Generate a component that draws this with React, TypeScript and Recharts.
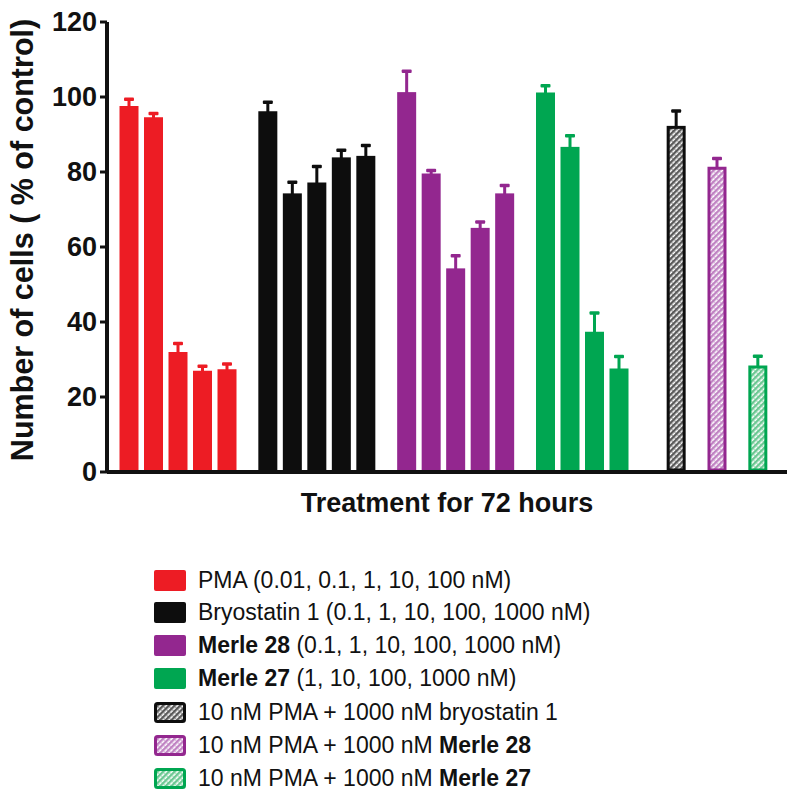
import React from "react";
import { BarChart, Bar, XAxis, YAxis, Label } from "recharts";

// ---- data ----
const pmaValues = [97.6, 94.6, 32.0, 27.0, 27.4];
const pmaErrors = [2.0, 1.2, 2.5, 1.4, 1.6];
const bryoValues = [96.2, 74.3, 77.2, 83.9, 84.3];
const bryoErrors = [2.6, 3.2, 4.5, 2.1, 3.0];
const merle28Values = [101.3, 79.6, 54.3, 65.1, 74.3];
const merle28Errors = [5.8, 1.0, 3.6, 1.8, 2.3];
const merle27Values = [101.2, 86.7, 37.4, 27.6];
const merle27Errors = [2.0, 3.2, 5.2, 3.4];
const comboKinds = ["comboBryo", "comboM28", "comboM27"];
const comboValues = [92.3, 81.4, 28.4];
const comboErrors = [4.2, 2.4, 2.7];
const yTicks = [0, 20, 40, 60, 80, 100, 120];

const COLORS: Record<string, string> = {
  pma: "#ED1C24",
  bryo: "#0D0D0D",
  m28: "#93278F",
  m27: "#00A651",
  comboBryo: "#0D0D0D",
  comboM28: "#93278F",
  comboM27: "#00A651",
};
const HATCH: Record<string, string> = {
  comboBryo: "#5a5a5a",
  comboM28: "#c083c3",
  comboM27: "#6cc893",
};

const FONT = "'Liberation Sans', Arial, Helvetica, sans-serif";

// build category table: bars separated by empty spacer categories
type Row = { key: string; value: number | null; err: number; kind: string };
const rows: Row[] = [];
let idx = 0;
const spacer = (n: number) => {
  for (let i = 0; i < n; i++) rows.push({ key: "s" + idx++, value: null, err: 0, kind: "" });
};
const addGroup = (vals: number[], errs: number[], kind: string | string[], inner: number) => {
  vals.forEach((v, i) => {
    if (i > 0) spacer(inner);
    rows.push({ key: "b" + idx++, value: v, err: errs[i], kind: Array.isArray(kind) ? kind[i] : kind });
  });
};
addGroup(pmaValues, pmaErrors, "pma", 2);
spacer(4);
addGroup(bryoValues, bryoErrors, "bryo", 2);
spacer(4);
addGroup(merle28Values, merle28Errors, "m28", 2);
spacer(4);
addGroup(merle27Values, merle27Errors, "m27", 2);
spacer(6);
addGroup(comboValues, comboErrors, comboKinds, 4);

const BAR_W = 19;

const HatchPattern = ({ id, kind }: { id: string; kind: string }) => (
  <defs>
    <pattern id={id} width={4} height={4} patternUnits="userSpaceOnUse" patternTransform="rotate(45)">
      <rect width={4} height={4} fill="#fff" />
      <rect width={2.4} height={4} fill={HATCH[kind]} />
      <rect x={2.4} y={0} width={1.6} height={1} fill={HATCH[kind]} opacity={0.6} />
    </pattern>
  </defs>
);

const BarShape = (props: any) => {
  const { x, y, width, height, payload, index } = props;
  if (!payload || payload.value == null || !height) return <g />;
  const kind = payload.kind as string;
  const color = COLORS[kind];
  const cx = x + width / 2;
  const left = cx - BAR_W / 2;
  const pxPerUnit = height / payload.value;
  const errTop = y - payload.err * pxPerUnit;
  const h = height - 2;
  const hatched = kind.startsWith("combo");
  const pid = "hatch-bar-" + index;
  return (
    <g>
      {hatched && <HatchPattern id={pid} kind={kind} />}
      {/* error bar */}
      <rect x={cx - 1.5} y={errTop} width={3} height={y - errTop + 1} fill={color} />
      <rect x={cx - 5} y={errTop - 1} width={10} height={3.5} rx={1} fill={color} />
      {hatched ? (
        <rect x={left + 1.5} y={y + 1.5} width={BAR_W - 3} height={h - 1.5} fill={`url(#${pid})`} stroke={color} strokeWidth={3} />
      ) : (
        <rect x={left} y={y} width={BAR_W} height={h} fill={color} />
      )}
    </g>
  );
};

const YLabel = (props: any) => {
  const vb = props.viewBox || {};
  const x = vb.x + vb.width - 74;
  const y = vb.y + vb.height / 2 - 7;
  return (
    <text x={x} y={y} transform={`rotate(-90, ${x}, ${y})`} textAnchor="middle" fontFamily={FONT} fontWeight="bold" fontSize={30.5} fill="#111">
      Number of cells ( % of control)
    </text>
  );
};

const XLabel = (props: any) => {
  const vb = props.viewBox || {};
  const x = vb.x + vb.width / 2;
  const y = vb.y + 40;
  return (
    <text x={x} y={y} textAnchor="middle" fontFamily={FONT} fontWeight="bold" fontSize={27} fill="#111">
      Treatment for 72 hours
    </text>
  );
};

const YTick = (props: any) => {
  const { x, y, payload } = props;
  return (
    <text x={x} y={y} dy={9} textAnchor="end" fontFamily={FONT} fontWeight="bold" fontSize={27} fill="#111">
      {payload.value}
    </text>
  );
};

type LegendItem = { kind: string; parts: { t: string; b?: boolean }[] };
const legendItems: LegendItem[] = [
  { kind: "pma", parts: [{ t: "PMA (0.01, 0.1, 1, 10, 100 nM)" }] },
  { kind: "bryo", parts: [{ t: "Bryostatin 1 (0.1, 1, 10, 100, 1000 nM)" }] },
  { kind: "m28", parts: [{ t: "Merle 28", b: true }, { t: " (0.1, 1, 10, 100, 1000 nM)" }] },
  { kind: "m27", parts: [{ t: "Merle 27", b: true }, { t: " (1, 10, 100, 1000 nM)" }] },
  { kind: "comboBryo", parts: [{ t: "10 nM PMA + 1000 nM bryostatin 1" }] },
  { kind: "comboM28", parts: [{ t: "10 nM PMA + 1000 nM " }, { t: "Merle 28", b: true }] },
  { kind: "comboM27", parts: [{ t: "10 nM PMA + 1000 nM " }, { t: "Merle 27", b: true }] },
];

const Swatch = ({ kind, i }: { kind: string; i: number }) => {
  const color = COLORS[kind];
  const hatched = kind.startsWith("combo");
  const pid = "hatch-leg-" + i;
  return (
    <svg width={32} height={21} style={{ display: "block" }}>
      {hatched && <HatchPattern id={pid} kind={kind} />}
      {hatched ? (
        <rect x={1.5} y={1.5} width={29} height={18} rx={2} fill={`url(#${pid})`} stroke={color} strokeWidth={3} />
      ) : (
        <rect x={0} y={0} width={32} height={21} rx={2} fill={color} />
      )}
    </svg>
  );
};

const legendCenters = [580, 612.5, 645.5, 678.5, 712, 745, 778];

export default function App() {
  return (
    <div style={{ position: "absolute", left: 0, top: 0, width: 800, height: 805, background: "#fff" }}>
      <BarChart
        width={800}
        height={530}
        data={rows}
        margin={{ top: 22, right: 13, bottom: 18, left: 7 }}
        barCategoryGap={0}
        barGap={0}
      >
        <XAxis
          dataKey="key"
          type="category"
          tick={false}
          tickLine={false}
          axisLine={{ stroke: "#111", strokeWidth: 4 }}
          height={40}
          padding={{ left: 18, right: 25 }}
        >
          <Label content={<XLabel />} />
        </XAxis>
        <YAxis
          type="number"
          domain={[0, 120]}
          ticks={yTicks}
          interval={0}
          width={100}
          tickSize={7}
          tickMargin={3}
          axisLine={{ stroke: "#111", strokeWidth: 4 }}
          tickLine={{ stroke: "#111", strokeWidth: 3 }}
          tick={<YTick />}
        >
          <Label content={<YLabel />} />
        </YAxis>
        <Bar dataKey="value" isAnimationActive={false} shape={<BarShape />} />
      </BarChart>
      {legendItems.map((it, i) => (
        <div
          key={it.kind}
          style={{
            position: "absolute",
            left: 154,
            top: legendCenters[i] - 16,
            height: 32,
            display: "flex",
            alignItems: "center",
            fontFamily: FONT,
            fontSize: 23,
            color: "#111",
            whiteSpace: "pre",
          }}
        >
          <Swatch kind={it.kind} i={i} />
          <span style={{ marginLeft: 12 }}>
            {it.parts.map((p, j) => (
              <span key={j} style={{ fontWeight: p.b ? "bold" : "normal" }}>
                {p.t}
              </span>
            ))}
          </span>
        </div>
      ))}
    </div>
  );
}
